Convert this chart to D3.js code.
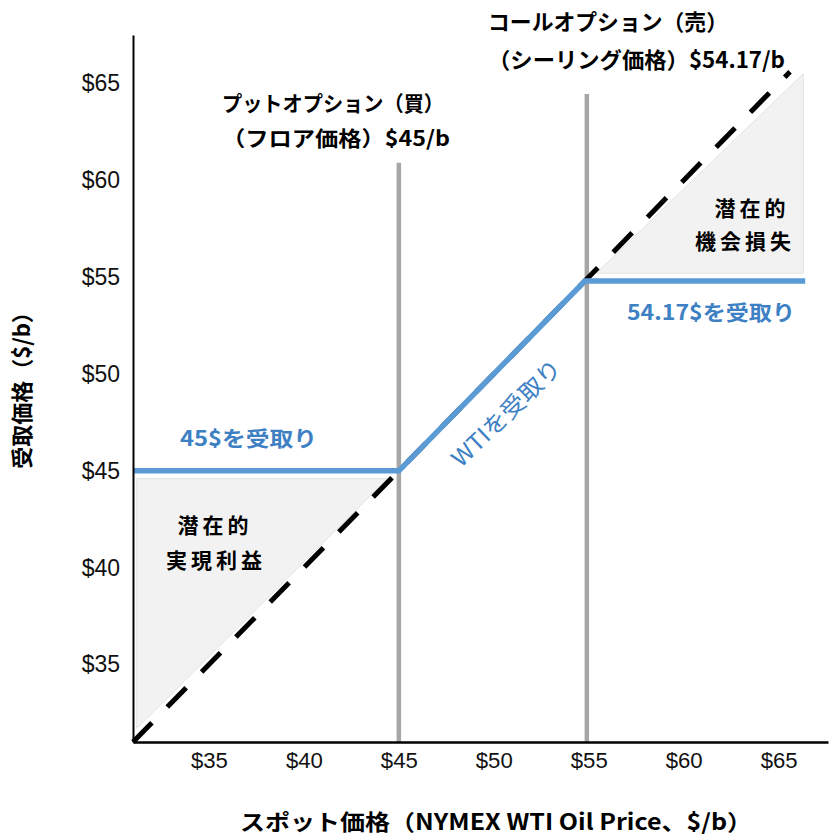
<!DOCTYPE html>
<html><head><meta charset="utf-8">
<script src="https://cdn.jsdelivr.net/npm/d3@7"></script>
<style>
body{margin:0;background:#fff;}
text{font-family:"Noto Sans CJK JP","Noto Sans",sans-serif;}
</style></head>
<body><svg id="c" width="830" height="836"></svg>
<script>
// ---- data ----
const xTickValues = [35, 40, 45, 50, 55, 60, 65];
const yTickValues = [35, 40, 45, 50, 55, 60, 65];
const xDomain = [31, 67.6];
const yDomain = [31, 67.5];
// spot price = received price (no hedge), dashed diagonal
const spotX = [31, 65.6];
const spotY = [31, 65.6];
// collar: received price
const receivedX = [31, 45, 54.8, 66.4];
const receivedY = [45, 45, 54.8, 54.8];
// option strike lines (as drawn)
const strikeNames = ["put", "call"];
const strikeX = [45, 54.9];
const strikeTop = [60.9, 64.45];
// shaded areas
const gainArea = [[31.2, 31.7], [31.2, 44.6], [44.4, 44.6]];
const lossArea = [[55.4, 55.2], [66.3, 55.2], [66.3, 65.5]];

const svg = d3.select("#c");
const x = d3.scaleLinear().domain(xDomain).range([133, 828]);
const y = d3.scaleLinear().domain(yDomain).range([742, 35]);

// shaded triangles
const poly = d3.line().x(d => x(d[0])).y(d => y(d[1]));
[gainArea, lossArea].forEach(a => {
  svg.append("path").attr("d", poly(a) + "Z")
    .attr("fill", "#f2f2f2").attr("stroke", "#e2e2e2").attr("stroke-width", 1);
});

// strike lines
strikeX.forEach((v, i) => {
  svg.append("line").attr("x1", x(v)).attr("x2", x(v))
    .attr("y1", y(strikeTop[i])).attr("y2", y(yDomain[0]))
    .attr("stroke", "#a6a6a6").attr("stroke-width", 4.5);
});

// dashed spot line
svg.append("line")
  .attr("x1", x(spotX[0])).attr("y1", y(spotY[0]))
  .attr("x2", x(spotX[1])).attr("y2", y(spotY[1]))
  .attr("stroke", "#000").attr("stroke-width", 5)
  .attr("stroke-dasharray", "27,22");

// received price line
const line = d3.line().x((d, i) => x(receivedX[i])).y((d, i) => y(receivedY[i]));
svg.append("path").attr("d", line(receivedX))
  .attr("fill", "none").attr("stroke", "#5b9bd5").attr("stroke-width", 5.5)
  .attr("stroke-linejoin", "miter");

// axes
const xAxis = svg.append("g").attr("transform", "translate(0,742)")
  .call(d3.axisBottom(x).tickValues(xTickValues).tickSize(0).tickPadding(10).tickFormat(d => "$" + d));
xAxis.select(".domain").attr("stroke", "#000").attr("stroke-width", 2.5);
xAxis.selectAll("text").attr("font-size", 22).attr("fill", "#111")
  .attr("textLength", 37).attr("lengthAdjust", "spacingAndGlyphs")
  .style("font-family", "'Liberation Sans',Arial,sans-serif");

const yAxis = svg.append("g").attr("transform", "translate(133,0)")
  .call(d3.axisLeft(y).tickValues(yTickValues).tickSize(0).tickPadding(13).tickFormat(d => "$" + d));
yAxis.select(".domain").attr("stroke", "#000").attr("stroke-width", 2);
yAxis.selectAll("text").attr("font-size", 23).attr("fill", "#111")
  .style("font-family", "'Liberation Sans',Arial,sans-serif");

// axis titles
svg.append("text").attr("x", 496).attr("y", 830).attr("text-anchor", "middle")
  .attr("font-size", 22).attr("font-weight", 700)
  .attr("textLength", 512).attr("lengthAdjust", "spacingAndGlyphs")
  .text("スポット価格（NYMEX WTI Oil Price、$/b）");
svg.append("text").attr("transform", "translate(30,385) rotate(-90)").attr("text-anchor", "middle")
  .attr("font-size", 22).attr("font-weight", 700)
  .text("受取価格（$/b）");

// text helper
function t(txt, xx, yy, opts) {
  const e = svg.append("text").attr("x", xx).attr("y", yy)
    .attr("font-size", opts.size || 21).attr("font-weight", opts.weight || 700)
    .attr("fill", opts.fill || "#000").attr("text-anchor", opts.anchor || "start")
    .text(txt);
  if (opts.len) e.attr("textLength", opts.len).attr("lengthAdjust", "spacingAndGlyphs");
  if (opts.ls) e.attr("letter-spacing", opts.ls);
  if (opts.rot) e.attr("transform", `rotate(${opts.rot},${xx},${yy})`);
  return e;
}
// strike titles
t("コールオプション（売）", 488, 30, {size: 22, len: 240});
t("（シーリング価格）$54.17/b", 488, 68, {size: 22, len: 297});
t("プットオプション（買）", 222, 111, {size: 21, len: 222});
t("（フロア価格）$45/b", 222, 146, {size: 21, len: 228});

// area labels
t("潜在的", 215, 533, {size: 21, anchor: "middle", ls: 4});
t("実現利益", 216, 568, {size: 21, anchor: "middle", ls: 4});
t("潜在的", 752, 216, {size: 21, anchor: "middle", ls: 4});
t("機会損失", 745, 249, {size: 21, anchor: "middle", ls: 4});

// blue labels
t("45$を受取り", 180, 446, {size: 21, fill: "#3d80c3", len: 137});
t("54.17$を受取り", 627, 320, {size: 21, fill: "#3d80c3", len: 168});
t("WTIを受取り", 512, 419, {size: 23, weight: 400, fill: "#3d80c3", anchor: "middle", rot: -44, len: 142});
</script></body></html>
